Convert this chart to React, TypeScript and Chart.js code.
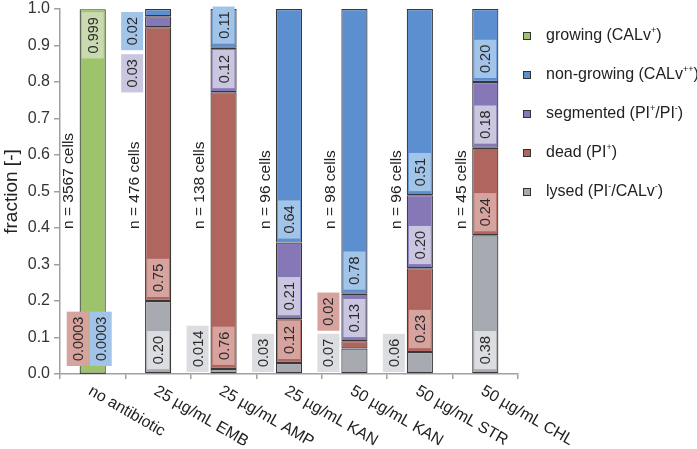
import React, { useEffect, useRef } from "react";
import { Chart, registerables } from "chart.js";

Chart.register(...registerables);

const FONT = "'Liberation Sans', Arial, Helvetica, sans-serif";

const categories = [
  "no antibiotic",
  "25 µg/mL EMB",
  "25 µg/mL AMP",
  "25 µg/mL KAN",
  "50 µg/mL KAN",
  "50 µg/mL STR",
  "50 µg/mL CHL",
];
const cellCounts = [3567, 476, 138, 96, 98, 96, 45];

// fractions, stacked bottom -> top
const lysed = [null, 0.2, 0.014, 0.03, 0.07, 0.06, 0.38];
const dead = [0.0003, 0.75, 0.758, 0.12, 0.02, 0.23, 0.24];
const segmented = [null, 0.03, 0.122, 0.21, 0.13, 0.2, 0.18];
const nonGrowing = [0.0003, 0.02, 0.106, 0.64, 0.78, 0.51, 0.2];
const growing = [0.999, null, null, null, null, null, null];

// printed value labels
const lysedText = ["", "0.20", "0.014", "0.03", "0.07", "0.06", "0.38"];
const deadText = ["0.0003", "0.75", "0.76", "0.12", "0.02", "0.23", "0.24"];
const segmentedText = ["", "0.03", "0.12", "0.21", "0.13", "0.20", "0.18"];
const nonGrowingText = ["0.0003", "0.02", "0.11", "0.64", "0.78", "0.51", "0.20"];
const growingText = ["0.999", "", "", "", "", "", ""];

// label placement modes
const lysedPlace = ["", "in", "leftB", "leftB", "leftB", "leftB", "in"];
const deadPlace = ["sideL", "in", "in", "in", "leftB", "in", "in"];
const segmentedPlace = ["", "leftT", "in", "in", "in", "in", "in"];
const nonGrowingPlace = ["sideR", "leftT", "in", "in", "in", "in", "in"];
const growingPlace = ["top", "", "", "", "", "", ""];

const seriesNames = [
  "lysed (PI⁻/CALv⁻)",
  "dead (PI⁺)",
  "segmented (PI⁺/PI⁻)",
  "non-growing (CALv⁺⁺)",
  "growing (CALv⁺)",
];
const seriesColors = ["#a7aab0", "#b0665e", "#8677b6", "#5b8fd0", "#9dc46b"];
const boxColors = ["#dcdde1", "#d6a39e", "#cbc6df", "#a3c4e9", "#c9dab0"];

const seriesValues = [lysed, dead, segmented, nonGrowing, growing];
const seriesTexts = [lysedText, deadText, segmentedText, nonGrowingText, growingText];
const seriesPlaces = [lysedPlace, deadPlace, segmentedPlace, nonGrowingPlace, growingPlace];

function drawBox(ctx: CanvasRenderingContext2D, cx: number, top: number, bottom: number, text: string, color: string) {
  ctx.fillStyle = color;
  ctx.fillRect(cx - 11, top, 22, bottom - top);
  ctx.save();
  ctx.translate(cx, (top + bottom) / 2);
  ctx.rotate(-Math.PI / 2);
  ctx.fillStyle = "#2a2a2a";
  ctx.textAlign = "center";
  ctx.textBaseline = "middle";
  ctx.fillText(text, 0, 1);
  ctx.restore();
}

const customPlugin = {
  id: "customLabels",
  afterDatasetsDraw(chart: any) {
    const ctx: CanvasRenderingContext2D = chart.ctx;
    const y = chart.scales.y;
    const x = chart.scales.x;
    ctx.save();
    ctx.font = `14.5px ${FONT}`;
    const y0 = y.getPixelForValue(0);
    const y1 = y.getPixelForValue(1);
    for (let i = 0; i < categories.length; i++) {
      const cx = x.getPixelForValue(i);
      let stackBottom = y0 - 2;
      for (let d = 0; d < seriesValues.length; d++) {
        const place = seriesPlaces[d][i];
        const text = seriesTexts[d][i];
        if (!place || !text) continue;
        const el = chart.getDatasetMeta(d).data[i];
        const len = ctx.measureText(text).width + 10;
        if (place === "in") {
          const bottom = el.base - 4;
          drawBox(ctx, cx, bottom - len, bottom, text, boxColors[d]);
        } else if (place === "top") {
          const top = el.y + 3;
          drawBox(ctx, cx, top, top + len, text, boxColors[d]);
        } else if (place === "leftB") {
          drawBox(ctx, cx - 26, stackBottom - len, stackBottom, text, boxColors[d]);
          stackBottom = stackBottom - len - 3;
        } else if (place === "sideL") {
          drawBox(ctx, cx - 15, y0 - 8 - len, y0 - 8, text, boxColors[d]);
        } else if (place === "sideR") {
          drawBox(ctx, cx + 8, y0 - 8 - len, y0 - 8, text, boxColors[d]);
        }
      }
      let stackTop = y1 + 3;
      for (let d = seriesValues.length - 1; d >= 0; d--) {
        const place = seriesPlaces[d][i];
        const text = seriesTexts[d][i];
        if (place !== "leftT" || !text) continue;
        const len = ctx.measureText(text).width + 10;
        drawBox(ctx, cx - 26, stackTop, stackTop + len, text, boxColors[d]);
        stackTop = stackTop + len + 4;
      }
    }
    ctx.restore();
  },
  afterDraw(chart: any) {
    const ctx: CanvasRenderingContext2D = chart.ctx;
    const x = chart.scales.x;
    const y = chart.scales.y;
    ctx.save();
    ctx.font = `15.5px ${FONT}`;
    ctx.fillStyle = "#222";
    for (let i = 0; i < categories.length; i++) {
      const cx = x.getPixelForValue(i);
      ctx.save();
      ctx.translate(cx - 23.5, y.getPixelForValue(0.4) + 1);
      ctx.rotate(-Math.PI / 2);
      ctx.textAlign = "left";
      ctx.textBaseline = "middle";
      ctx.fillText(`n = ${cellCounts[i]} cells`, 0, 0);
      ctx.restore();
    }
    ctx.font = `16px ${FONT}`;
    for (let i = 0; i < categories.length; i++) {
      const cx = x.getPixelForValue(i);
      ctx.save();
      ctx.translate(cx + 1, y.bottom + 9);
      ctx.rotate(Math.PI / 6);
      ctx.textAlign = "left";
      ctx.textBaseline = "top";
      ctx.fillText(categories[i], 0, 0);
      ctx.restore();
    }
    const lx = 523;
    for (let j = 0; j < seriesNames.length; j++) {
      const d = seriesNames.length - 1 - j;
      const ly = 36 + j * 39;
      ctx.fillStyle = seriesColors[d];
      ctx.fillRect(lx, ly - 4, 8, 8);
      ctx.strokeStyle = "#333";
      ctx.lineWidth = 1;
      ctx.strokeRect(lx + 0.5, ly - 3.5, 7, 7);
      ctx.fillStyle = "#222";
      ctx.textAlign = "left";
      ctx.textBaseline = "middle";
      let tx = 546;
      const name = seriesNames[d];
      for (const ch of name) {
        if (ch === "⁺" || ch === "⁻") {
          ctx.font = `9px ${FONT}`;
          const s = ch === "⁺" ? "+" : "-";
          ctx.fillText(s, tx, ly - 5);
          tx += ctx.measureText(s).width;
        } else {
          ctx.font = `16px ${FONT}`;
          ctx.fillText(ch, tx, ly);
          tx += ctx.measureText(ch).width;
        }
      }
    }
    ctx.restore();
  },
};

export default function App() {
  const ref = useRef<HTMLCanvasElement | null>(null);
  useEffect(() => {
    if (!ref.current) return;
    const chart = new Chart(ref.current, {
      type: "bar",
      data: {
        labels: categories,
        datasets: seriesValues.map((vals, d) => ({
          label: seriesNames[d],
          data: vals as any,
          backgroundColor: seriesColors[d],
          borderColor: "#383838",
          borderWidth: 1.2,
          borderSkipped: false,
          barPercentage: 0.4,
          categoryPercentage: 1,
          stack: "s",
        })),
      },
      options: {
        responsive: false,
        animation: false,
        devicePixelRatio: 1,
        layout: { padding: { top: 9, right: 179, left: 0, bottom: 0 } },
        plugins: { legend: { display: false }, tooltip: { enabled: false } },
        scales: {
          x: {
            stacked: true,
            ticks: { display: false },
            grid: { display: true, drawOnChartArea: false, drawTicks: true, tickLength: 5, color: "#a0a0a0", lineWidth: 1.5, offset: true },
            border: { display: true, color: "#a0a0a0", width: 1.5 },
            afterFit: (s: any) => { s.height = 75; s.paddingLeft = 0; s.paddingRight = 0; },
          },
          y: {
            stacked: true,
            min: 0,
            max: 1,
            ticks: {
              stepSize: 0.1,
              callback: (v: any) => Number(v).toFixed(1),
              font: { size: 16, family: FONT },
              color: "#333",
              padding: 4,
            },
            grid: { display: true, drawOnChartArea: false, drawTicks: true, tickLength: 6, color: "#a0a0a0", lineWidth: 1.5 },
            border: { display: true, color: "#a0a0a0", width: 1.5 },
            title: { display: true, text: "fraction [-]", font: { size: 19, family: FONT }, color: "#222", padding: { top: 0, bottom: 0 } },
            afterFit: (s: any) => { s.width = 60; s.paddingTop = 0; s.paddingBottom = 0; },
          },
        },
      },
      plugins: [customPlugin],
    });
    return () => chart.destroy();
  }, []);
  return (
    <div style={{ position: "fixed", left: 0, top: 0, width: 697, height: 449, background: "#fff" }}>
      <canvas ref={ref} width={697} height={449} style={{ display: "block" }} />
    </div>
  );
}
